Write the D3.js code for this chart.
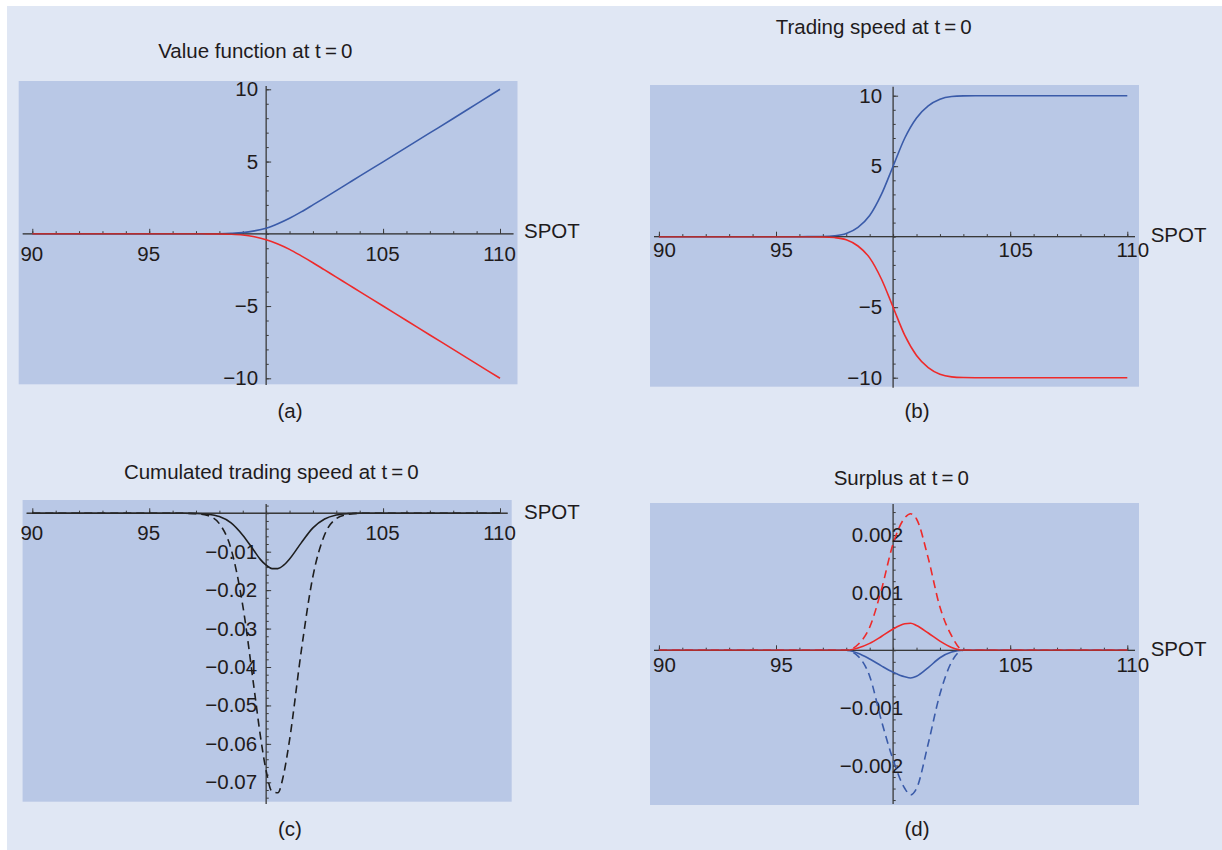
<!DOCTYPE html>
<html>
<head>
<meta charset="utf-8">
<script src="https://cdnjs.cloudflare.com/ajax/libs/d3/7.8.5/d3.min.js"></script>
<style>
  body { margin: 0; background: #fff; }
  svg { display: block; font-family: "Liberation Sans", Arial, sans-serif; }
  .tick text { font-size: 20.5px; fill: #1f1b1c; }
  .lbl { font-size: 20.5px; fill: #1f1b1c; }
</style>
</head>
<body>
<div id="chart"></div>
<script>

// ---- data ----

// (a) value function at t=0
const spotAB = [90, 95, 96, 97, 97.5, 98, 98.5, 99, 99.5, 100, 100.5, 101, 101.5, 102, 102.5, 103, 103.5, 104, 105, 106, 107, 108, 109, 110];
const valueBlue = [0, 0, 0, 0.0004, 0.002, 0.008, 0.03, 0.08, 0.2, 0.39, 0.7, 1.08, 1.52, 2.0, 2.49, 2.99, 3.49, 3.99, 4.98, 5.98, 6.98, 7.98, 8.99, 10];
const valueRed = [0, 0, 0, -0.0004, -0.002, -0.008, -0.03, -0.085, -0.21, -0.41, -0.71, -1.08, -1.53, -2.0, -2.5, -3.0, -3.5, -4.0, -5.0, -6.0, -7.0, -8.0, -9.0, -10];

// (b) trading speed at t=0
const speedBlue = [0, 0, 0.0003, 0.013, 0.06, 0.22, 0.66, 1.5, 3.0, 5.0, 7.0, 8.42, 9.28, 9.75, 9.94, 9.99, 10, 10, 10, 10, 10, 10, 10, 10];
const speedRed = [0, 0, -0.0003, -0.013, -0.06, -0.22, -0.66, -1.5, -3.0, -5.0, -7.0, -8.42, -9.28, -9.75, -9.94, -9.99, -10, -10, -10, -10, -10, -10, -10, -10];

// (c) cumulated trading speed at t=0
const spotC = [90, 96, 96.5, 97, 97.5, 98, 98.5, 99, 99.5, 99.75, 100, 100.25, 100.5, 100.75, 101, 101.5, 102, 102.5, 103, 103.5, 104, 110];
const cumSolid = [0, 0, -0.00001, -0.00005, -0.00024, -0.00087, -0.0025, -0.0057, -0.0099, -0.012, -0.0135, -0.0144, -0.0144, -0.0135, -0.0119, -0.0077, -0.0038, -0.0015, -0.00045, -0.0001, 0, 0];
const cumDashed = [0, 0, -0.00001, -0.0001, -0.0006, -0.0027, -0.0093, -0.024, -0.0463, -0.0578, -0.067, -0.0724, -0.0727, -0.0679, -0.059, -0.0359, -0.0164, -0.0056, -0.0014, -0.0003, 0, 0];

// (d) surplus at t=0
const spotD = [90, 98, 98.5, 99, 99.5, 100, 100.5, 100.75, 101, 101.5, 102, 102.5, 103, 110];
const surplusRedDashed = [0, 0, 0.0001, 0.0004, 0.00105, 0.00185, 0.0023, 0.00237, 0.00228, 0.0016, 0.00075, 0.00025, 0, 0];
const surplusRedSolid = [0, 0, 0.00004, 0.00012, 0.00024, 0.00037, 0.00046, 0.00047, 0.00043, 0.0003, 0.00016, 0.00005, 0, 0];
const surplusBlueSolid = [0, 0, -0.00005, -0.00015, -0.00027, -0.00038, -0.00046, -0.00048, -0.00045, -0.0003, -0.00013, -0.00003, 0, 0];
const surplusBlueDashed = [0, 0, -0.0001, -0.00045, -0.00122, -0.0019, -0.0024, -0.00251, -0.0024, -0.00162, -0.00076, -0.0002, 0, 0];

// x ticks
const xMajor = [90, 95, 105, 110];
const xMinor = d3.range(90, 111, 1);

const BLUE = "#3a5ba9";
const RED = "#ee2a2a";
const BLACK = "#1e1e1e";
const AXIS = "#3a3a3a";

const W = 1222, H = 850;

const svg = d3.select("#chart")
    .append("svg")
    .attr("width", W)
    .attr("height", H);

svg.append("rect")
    .attr("x", 7).attr("y", 6)
    .attr("width", W - 7).attr("height", H - 6)
    .attr("fill", "#e0e7f4");


function drawPanel(o) {
    const g = svg.append("g");

    g.append("rect")
        .attr("x", o.bg[0]).attr("y", o.bg[1])
        .attr("width", o.bg[2] - o.bg[0]).attr("height", o.bg[3] - o.bg[1])
        .attr("fill", "#b9c8e6");

    const x = d3.scaleLinear().domain([90, 110]).range(o.xr);
    const y = d3.scaleLinear().domain(o.yd).range(o.yr);
    const x0 = x(100), y0 = y(0);

    // axis lines
    g.append("line")
        .attr("x1", o.bg[0] + 4).attr("x2", o.bg[2] - 4)
        .attr("y1", y0).attr("y2", y0)
        .attr("stroke", AXIS).attr("stroke-width", 1.3);
    g.append("line")
        .attr("x1", x0).attr("x2", x0)
        .attr("y1", o.yLine[0]).attr("y2", o.yLine[1])
        .attr("stroke", AXIS).attr("stroke-width", 1.3);

    // x ticks (pointing up), labels below
    const xMinorAxis = d3.axisBottom(x).tickValues(xMinor).tickSizeInner(-2.6).tickSizeOuter(0).tickFormat("");
    const xMajorAxis = d3.axisBottom(x).tickValues(xMajor).tickSizeInner(-5).tickSizeOuter(0)
        .tickPadding(o.xPad).tickFormat(d3.format("d"));
    g.append("g").attr("transform", `translate(0,${y0})`).call(xMinorAxis);
    const gx = g.append("g").attr("transform", `translate(0,${y0})`).call(xMajorAxis);
    gx.selectAll("text").attr("dx", o.xShift);

    // y ticks (pointing right), labels left
    const yMinorAxis = d3.axisLeft(y).tickValues(o.yMinor).tickSizeInner(-2.6).tickSizeOuter(0).tickFormat("");
    const yMajorAxis = d3.axisLeft(y).tickValues(o.yMajor).tickSizeInner(-5).tickSizeOuter(0)
        .tickPadding(o.yPad).tickFormat(o.fmt);
    g.append("g").attr("transform", `translate(${x0},0)`).call(yMinorAxis);
    g.append("g").attr("transform", `translate(${x0},0)`).call(yMajorAxis);

    g.selectAll(".domain").remove();
    g.selectAll(".tick line").attr("stroke", AXIS).attr("stroke-width", 1);

    // curves
    const line = d3.line()
        .x(d => x(d[0]))
        .y(d => y(d[1]))
        .curve(d3.curveMonotoneX);

    o.series.forEach(s => {
        g.append("path")
            .datum(d3.zip(s.x, s.y))
            .attr("d", line)
            .attr("fill", "none")
            .attr("stroke", s.color)
            .attr("stroke-width", 1.6)
            .attr("stroke-dasharray", s.dash ? "8,5" : null);
    });

    // axis drawn again lightly on top, gives the dark tint where curves lie on zero
    g.append("line")
        .attr("x1", o.bg[0] + 4).attr("x2", o.bg[2] - 4)
        .attr("y1", y0).attr("y2", y0)
        .attr("stroke", AXIS).attr("stroke-width", 1)
        .attr("stroke-opacity", 0.45);

    // texts
    g.append("text").attr("class", "lbl")
        .attr("x", o.title[1]).attr("y", o.title[2])
        .attr("text-anchor", "middle")
        .text(o.title[0]);
    g.append("text").attr("class", "lbl")
        .attr("x", o.spot[0]).attr("y", o.spot[1])
        .text("SPOT");
    g.append("text").attr("class", "lbl")
        .attr("x", o.sub[1]).attr("y", o.sub[2])
        .attr("text-anchor", "middle")
        .text(o.sub[0]);
}

drawPanel({
    bg: [18.7, 81, 517.5, 384.3],
    xr: [32.3, 500],
    yd: [-10, 10], yr: [378.3, 89.3],
    yLine: [86, 385],
    yMinor: d3.range(-10, 11, 1),
    yMajor: [-10, -5, 5, 10],
    fmt: d3.format("d"),
    xPad: 12.5, xShift: -1,
    yPad: 8,
    series: [
        { x: spotAB, y: valueBlue, color: BLUE },
        { x: spotAB, y: valueRed, color: RED }
    ],
    title: ["Value function at t\u2009=\u20090", 255.3, 58],
    spot: [524, 238.3],
    sub: ["(a)", 290, 418]
});

drawPanel({
    bg: [650, 85, 1139, 386.7],
    xr: [658.9, 1127.3],
    yd: [-10, 10], yr: [377.7, 95.7],
    yLine: [86.7, 387.7],
    yMinor: d3.range(-10, 11, 1),
    yMajor: [-10, -5, 5, 10],
    fmt: d3.format("d"),
    xPad: 6, xShift: 5,
    yPad: 11,
    series: [
        { x: spotAB, y: speedBlue, color: BLUE },
        { x: spotAB, y: speedRed, color: RED }
    ],
    title: ["Trading speed at t\u2009=\u20090", 873.7, 33.5],
    spot: [1150.7, 241.7],
    sub: ["(b)", 917, 418]
});

drawPanel({
    bg: [22.6, 500, 511.7, 801.7],
    xr: [32.3, 500],
    yd: [-0.07, -0.01], yr: [782.3, 551.7],
    yLine: [504, 804],
    yMinor: d3.range(-37, 2).map(i => i * 0.002),
    yMajor: [-0.07, -0.06, -0.05, -0.04, -0.03, -0.02, -0.01],
    fmt: d3.format(".2f"),
    xPad: 12.5, xShift: -1,
    yPad: 9,
    series: [
        { x: spotC, y: cumSolid, color: BLACK },
        { x: spotC, y: cumDashed, color: BLACK, dash: true }
    ],
    title: ["Cumulated trading speed at t\u2009=\u20090", 271.3, 479.3],
    spot: [524, 519.3],
    sub: ["(c)", 290, 836]
});

drawPanel({
    bg: [650, 503, 1139, 805],
    xr: [658.9, 1127.3],
    yd: [-0.002, 0.002], yr: [765.5, 535.1],
    yLine: [504, 804],
    yMinor: d3.range(-13, 13).map(i => i * 0.0002),
    yMajor: [-0.002, -0.001, 0.001, 0.002],
    fmt: d3.format(".3f"),
    xPad: 7, xShift: 5,
    yPad: -10,
    series: [
        { x: spotD, y: surplusBlueSolid, color: BLUE },
        { x: spotD, y: surplusBlueDashed, color: BLUE, dash: true },
        { x: spotD, y: surplusRedSolid, color: RED },
        { x: spotD, y: surplusRedDashed, color: RED, dash: true }
    ],
    title: ["Surplus at t\u2009=\u20090", 901.3, 485],
    spot: [1150.7, 655.7],
    sub: ["(d)", 917, 836]
});

</script>
</body>
</html>
